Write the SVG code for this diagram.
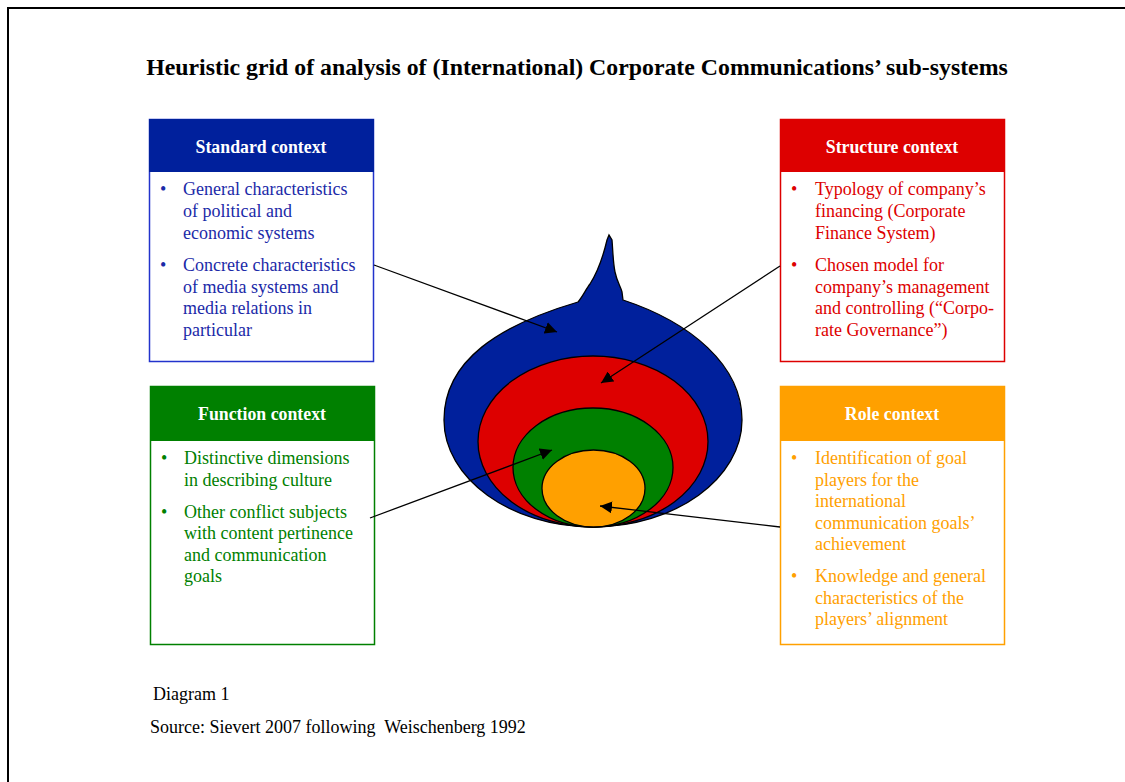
<svg xmlns="http://www.w3.org/2000/svg" width="1125" height="782" viewBox="0 0 1125 782">
  <style>
    .txt { font-family: "Liberation Serif", "Times New Roman", serif; font-size: 18px; }
    .head { font-family: "Liberation Serif", "Times New Roman", serif; font-size: 17.8px; font-weight: bold; fill: #ffffff; text-anchor: middle; }
    .title { font-family: "Liberation Serif", "Times New Roman", serif; font-size: 23.8px; font-weight: bold; fill: #000000; text-anchor: middle; }
    .blue { fill: #1b2aa8; }
    .red { fill: #dd0000; }
    .green { fill: #008000; }
    .orange { fill: #ffa000; }
    .conn line { stroke: #000000; stroke-width: 1.3; marker-end: url(#arrow); }
    .layer { stroke: #000000; stroke-width: 1.3; }
  </style>
  <defs>
    <marker id="arrow" viewBox="0 0 10 10" refX="10" refY="5" markerWidth="12" markerHeight="12" markerUnits="userSpaceOnUse" orient="auto">
      <path d="M0,0 L10,5 L0,10 Z" fill="#000000"/>
    </marker>
  </defs>

  <rect width="1125" height="782" fill="#ffffff"/>
  <!-- page frame -->
  <path d="M8,782 L8,8 L1125,8" fill="none" stroke="#000000" stroke-width="2"/>

  <text class="title" x="577" y="75">Heuristic grid of analysis of (International) Corporate Communications’ sub-systems</text>

  <!-- onion of nested contexts -->
  <g id="onion">
    <path class="layer" fill="#00209c" d="M593,527 C510,527 444,478 444,420 C444,360 500,325 578,302 C583,296 586,289 590,284 C597,273 603,257 607,240 L609,235 L612,240 C613,252 613,262 615,272 C617,282 621,287 622,292 L623,300 C690,322 742,365 742,420 C742,478 676,527 593,527 Z"/>
    <ellipse class="layer" fill="#dd0000" cx="593" cy="441.5" rx="115" ry="85.5"/>
    <ellipse class="layer" fill="#008000" cx="593" cy="467.5" rx="80" ry="59.5"/>
    <ellipse class="layer" fill="#ffa000" cx="593.5" cy="488.5" rx="51.5" ry="38.5"/>
  </g>

  <!-- Standard context -->
  <g id="standard">
    <rect x="149.5" y="119.5" width="224" height="242" fill="#ffffff" stroke="#2233cc" stroke-width="1.5"/>
    <rect x="149" y="119" width="225" height="53" fill="#00209c"/>
    <text class="head" x="261" y="153">Standard context</text>
    <g class="txt blue">
      <text x="160" y="195">•</text>
      <text x="183" y="195">General characteristics</text>
      <text x="183" y="217">of political and</text>
      <text x="183" y="239">economic systems</text>
      <text x="160" y="271">•</text>
      <text x="183" y="271">Concrete characteristics</text>
      <text x="183" y="293">of media systems and</text>
      <text x="183" y="314">media relations in</text>
      <text x="183" y="336">particular</text>
    </g>
  </g>

  <!-- Structure context -->
  <g id="structure">
    <rect x="780.5" y="119.5" width="224" height="242" fill="#ffffff" stroke="#dd0000" stroke-width="1.5"/>
    <rect x="780" y="119" width="225" height="53" fill="#dd0000"/>
    <text class="head" x="892" y="153">Structure context</text>
    <g class="txt red">
      <text x="791" y="195">•</text>
      <text x="815" y="195">Typology of company’s</text>
      <text x="815" y="217">financing (Corporate</text>
      <text x="815" y="239">Finance System)</text>
      <text x="791" y="271">•</text>
      <text x="815" y="271">Chosen model for</text>
      <text x="815" y="293">company’s management</text>
      <text x="815" y="314">and controlling (“Corpo-</text>
      <text x="815" y="336">rate Governance”)</text>
    </g>
  </g>

  <!-- Function context -->
  <g id="function">
    <rect x="150.5" y="386.5" width="224" height="258" fill="#ffffff" stroke="#008000" stroke-width="1.5"/>
    <rect x="150" y="386" width="225" height="55" fill="#008000"/>
    <text class="head" x="262" y="420">Function context</text>
    <g class="txt green">
      <text x="161" y="464">•</text>
      <text x="184" y="464">Distinctive dimensions</text>
      <text x="184" y="486">in describing culture</text>
      <text x="161" y="518">•</text>
      <text x="184" y="518">Other conflict subjects</text>
      <text x="184" y="539">with content pertinence</text>
      <text x="184" y="561">and communication</text>
      <text x="184" y="582">goals</text>
    </g>
  </g>

  <!-- Role context -->
  <g id="role">
    <rect x="780.5" y="386.5" width="224" height="258" fill="#ffffff" stroke="#ffa000" stroke-width="1.5"/>
    <rect x="780" y="386" width="225" height="55" fill="#ffa000"/>
    <text class="head" x="892" y="420">Role context</text>
    <g class="txt orange">
      <text x="791" y="464">•</text>
      <text x="815" y="464">Identification of goal</text>
      <text x="815" y="486">players for the</text>
      <text x="815" y="507">international</text>
      <text x="815" y="529">communication goals’</text>
      <text x="815" y="550">achievement</text>
      <text x="791" y="582">•</text>
      <text x="815" y="582">Knowledge and general</text>
      <text x="815" y="604">characteristics of the</text>
      <text x="815" y="625">players’ alignment</text>
    </g>
  </g>

  <!-- connectors from each context to its layer -->
  <g id="connectors" class="conn">
    <line x1="374" y1="265" x2="557" y2="332"/>
    <line x1="780" y1="266" x2="601" y2="383"/>
    <line x1="370" y1="518" x2="552" y2="450"/>
    <line x1="780" y1="527" x2="600" y2="506"/>
  </g>

  <text class="txt" x="153" y="700" fill="#000000">Diagram 1</text>
  <text class="txt" x="150" y="733" fill="#000000" xml:space="preserve">Source: Sievert 2007 following  Weischenberg 1992</text>
</svg>
